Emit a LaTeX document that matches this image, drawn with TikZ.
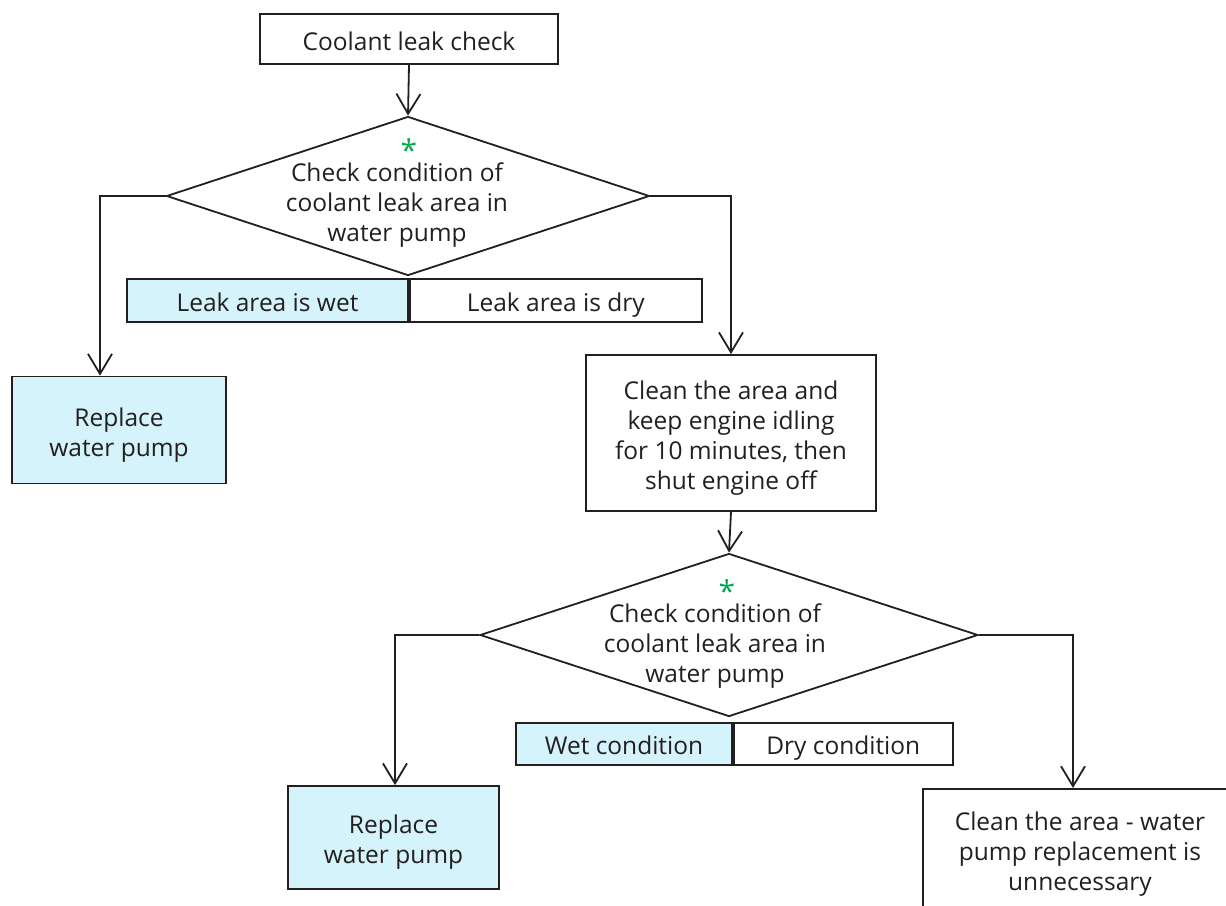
\documentclass[tikz,border=0pt]{standalone}
\usepackage{fontspec}
\setmainfont{Open Sans}
\usetikzlibrary{shapes.geometric,arrows.meta}
\definecolor{lightcyan}{HTML}{D5F3FA}
\definecolor{txt}{HTML}{231F20}
\definecolor{stargreen}{HTML}{00A650}
\tikzset{
  box/.style={draw=txt, line width=1.8pt, inner sep=0pt, align=center, text=txt, font=\fontsize{24.5}{30}\selectfont},
  wetbox/.style={box, fill=lightcyan},
  barbox/.style={box, text height=27pt, text depth=6pt},
  wetbar/.style={barbox, fill=lightcyan},
  dia/.style={diamond, draw=txt, line width=1.8pt, inner sep=0pt},
  dtext/.style={align=center, text=txt, font=\fontsize{24.5}{30}\selectfont, inner sep=0pt},
  arr/.style={draw=txt, line width=1.8pt, -{Straight Barb[length=20pt,width=24pt,line width=1.8pt]}}
}
\newcommand{\greenstar}{\hspace*{24pt}{\fontsize{30}{30}\selectfont\color{stargreen}*}\\[-10pt]}
\newcommand{\dn}[1]{\rule{0pt}{#1}}
\begin{document}
\begin{tikzpicture}[x=1pt,y=-1pt]
\useasboundingbox (0,0) rectangle (1226,905);
\clip (0,0) rectangle (1226,905);
% top
\node[box, minimum width=298, minimum height=50] (start) at (409,39) {\dn{22.6pt}Coolant leak check};
% diamond 1
\node[dia, minimum width=483, minimum height=159] (d1) at (408,196) {};
\node[dtext] (t1) at (397,193.5) {\greenstar Check condition of\\coolant leak area in\\water pump};
% label bar 1
\node[wetbar, minimum width=281, minimum height=43] (wet1) at (267.5,300.5) {Leak area is wet};
\node[barbox, minimum width=292, minimum height=43, anchor=west] (dry1) at (wet1.east) {Leak area is dry};
% replace 1
\node[wetbox, minimum width=214, minimum height=107] (rp1) at (119,430) {\dn{28.6pt}Replace\\water pump};
% clean box
\node[box, minimum width=290, minimum height=156] (clean) at (731,433) {\dn{28.6pt}Clean the area and\\keep engine idling\\for 10 minutes, then\\shut engine off};
% diamond 2
\node[dia, minimum width=498, minimum height=163] (d2) at (729,635) {};
\node[dtext] (t2) at (715,634.5) {\greenstar Check condition of\\coolant leak area in\\water pump};
% label bar 2
\node[wetbar, minimum width=216, minimum height=42] (wet2) at (624,744) {Wet condition};
\node[barbox, minimum width=219, minimum height=42, anchor=west] (dry2) at (wet2.east) {Dry condition};
% replace 2
\node[wetbox, minimum width=211, minimum height=103] (rp2) at (393.5,837.5) {\dn{28.6pt}Replace\\water pump};
% final box (cut off)
\node[box, minimum width=320, minimum height=130, anchor=north west] (fin) at (922,788) {};
\node[dtext] (fint) at (1080,854) {Clean the area - water\\pump replacement is\\unnecessary};
% connectors
\draw[arr] (start.south) -- (d1.north);
\draw[arr] (d1.west) -| ([xshift=-19pt]rp1.north);
\draw[arr] (d1.east) -| (clean.north);
\draw[arr] (clean.south) -- (d2.north);
\draw[arr] (d2.west) -| ([xshift=1.5pt]rp2.north);
\draw[arr] (d2.east) -| ([xshift=151pt]fin.north west);
\end{tikzpicture}
\end{document}
